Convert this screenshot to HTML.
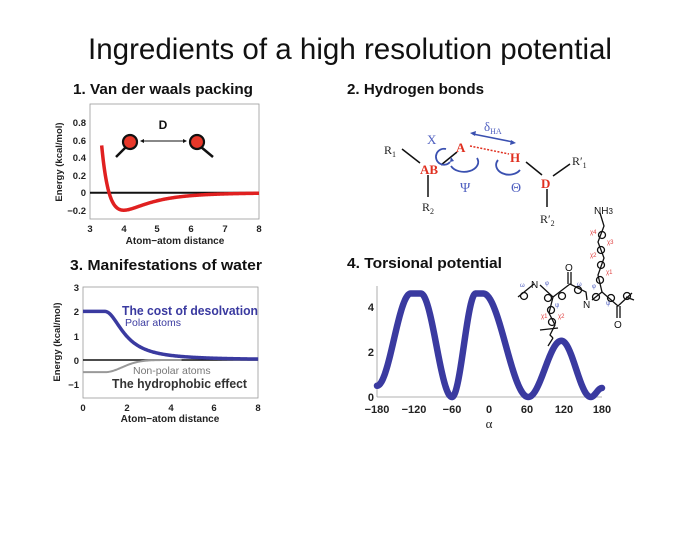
<!DOCTYPE html>
<html><head><meta charset="utf-8"><style>
html,body{margin:0;padding:0;background:#fff;}
svg{display:block;}
</style></head><body>
<svg id="s" width="700" height="540" viewBox="0 0 700 540" xmlns="http://www.w3.org/2000/svg" font-family="Liberation Sans, sans-serif">
<rect width="700" height="540" fill="#fff"/>
<text x="350" y="59" font-size="30" text-anchor="middle" textLength="524" lengthAdjust="spacingAndGlyphs" fill="#111">Ingredients of a high resolution potential</text>

<!-- Panel 1 -->
<text x="73" y="94" font-size="14.5" font-weight="bold" textLength="180" lengthAdjust="spacingAndGlyphs" fill="#111">1. Van der waals packing</text>
<rect x="90" y="104" width="169" height="115" fill="none" stroke="#999" stroke-width="0.8"/>
<g font-size="9.5" font-weight="bold" fill="#222" text-anchor="end">
<text x="86" y="126">0.8</text><text x="86" y="144">0.6</text><text x="86" y="161">0.4</text>
<text x="86" y="179">0.2</text><text x="86" y="196">0</text><text x="86" y="214">−0.2</text>
</g>
<g font-size="9.5" font-weight="bold" fill="#222" text-anchor="middle">
<text x="90" y="232">3</text><text x="124" y="232">4</text><text x="157" y="232">5</text>
<text x="191" y="232">6</text><text x="225" y="232">7</text><text x="259" y="232">8</text>
</g>
<text x="175" y="244" font-size="10" font-weight="bold" text-anchor="middle" fill="#222">Atom−atom distance</text>
<text transform="translate(62,162) rotate(-90)" font-size="9.5" font-weight="bold" text-anchor="middle" fill="#222">Energy (kcal/mol)</text>
<line x1="90" y1="192.7" x2="259" y2="192.7" stroke="#111" stroke-width="2"/>
<path id="lj" fill="none" stroke="#e02020" stroke-width="3.5"/>
<text x="163" y="129" font-size="12" font-weight="bold" text-anchor="middle" fill="#111">D</text>
<line x1="126" y1="147" x2="116" y2="157" stroke="#111" stroke-width="2.5"/>
<circle cx="130" cy="142" r="7" fill="#e8382a" stroke="#111" stroke-width="2.2"/>
<line x1="201" y1="147" x2="213" y2="157" stroke="#111" stroke-width="2.5"/>
<circle cx="197" cy="142" r="7" fill="#e8382a" stroke="#111" stroke-width="2.2"/>
<line x1="141" y1="141" x2="186" y2="141" stroke="#111" stroke-width="0.9"/>
<path d="M140,141 l4,-2 v4z M187,141 l-4,-2 v4z" fill="#111"/>

<!-- Panel 3 -->
<text x="70" y="270" font-size="14.5" font-weight="bold" textLength="192" lengthAdjust="spacingAndGlyphs" fill="#111">3. Manifestations of water</text>
<rect x="83" y="287" width="175" height="111" fill="none" stroke="#999" stroke-width="0.8"/>
<g font-size="9.5" font-weight="bold" fill="#222" text-anchor="end">
<text x="79" y="291">3</text><text x="79" y="315">2</text><text x="79" y="340">1</text>
<text x="79" y="364">0</text><text x="79" y="388">−1</text>
</g>
<g font-size="9.5" font-weight="bold" fill="#222" text-anchor="middle">
<text x="83" y="411">0</text><text x="127" y="411">2</text><text x="171" y="411">4</text>
<text x="214" y="411">6</text><text x="258" y="411">8</text>
</g>
<text x="170" y="422" font-size="10" font-weight="bold" text-anchor="middle" fill="#222">Atom−atom distance</text>
<text transform="translate(60,342) rotate(-90)" font-size="9.5" font-weight="bold" text-anchor="middle" fill="#222">Energy (kcal/mol)</text>
<line x1="83" y1="360" x2="258" y2="360" stroke="#111" stroke-width="1.5"/>
<path id="gr" fill="none" stroke="#999" stroke-width="2"/>
<path id="bl" fill="none" stroke="#3a3aa0" stroke-width="3.5"/>
<text x="122" y="315" font-size="13" font-weight="bold" fill="#3a3aa0" textLength="136" lengthAdjust="spacingAndGlyphs">The cost of desolvation</text>
<text x="125" y="326" font-size="10.5" fill="#3a3aa0">Polar atoms</text>
<text x="133" y="374" font-size="10.5" fill="#777">Non-polar atoms</text>
<text x="112" y="388" font-size="12.5" font-weight="bold" fill="#333" textLength="135" lengthAdjust="spacingAndGlyphs">The hydrophobic effect</text>

<!-- Panel 2 -->
<text x="347" y="94" font-size="14.5" font-weight="bold" textLength="137" lengthAdjust="spacingAndGlyphs" fill="#111">2. Hydrogen bonds</text>
<g font-family="Liberation Serif, serif">
<line x1="402" y1="149" x2="420" y2="163" stroke="#111" stroke-width="1.5"/>
<line x1="428" y1="175" x2="428" y2="197" stroke="#111" stroke-width="1.5"/>
<line x1="441" y1="165" x2="457" y2="152" stroke="#111" stroke-width="1.5"/>
<line x1="526" y1="162" x2="542" y2="175" stroke="#111" stroke-width="1.5"/>
<line x1="553" y1="176" x2="570" y2="164" stroke="#111" stroke-width="1.5"/>
<line x1="547" y1="189" x2="547" y2="207" stroke="#111" stroke-width="1.5"/>
<line x1="470" y1="146" x2="509" y2="154" stroke="#e03020" stroke-width="1.5" stroke-dasharray="2,1.5"/>
<text x="384" y="154" font-size="12" fill="#222">R<tspan font-size="8" dy="3">1</tspan></text>
<text x="420" y="174" font-size="13" font-weight="bold" fill="#e03020">AB</text>
<text x="456" y="152" font-size="13" font-weight="bold" fill="#e03020">A</text>
<text x="510" y="162" font-size="13" font-weight="bold" fill="#e03020">H</text>
<text x="541" y="188" font-size="13" font-weight="bold" fill="#e03020">D</text>
<text x="572" y="165" font-size="12" fill="#222">R′<tspan font-size="8" dy="3">1</tspan></text>
<text x="422" y="211" font-size="12" fill="#222">R<tspan font-size="8" dy="3">2</tspan></text>
<text x="540" y="223" font-size="12" fill="#222">R′<tspan font-size="8" dy="3">2</tspan></text>
<text x="427" y="144" font-size="13" fill="#5060c0">X</text>
<text x="484" y="131" font-size="13" fill="#5060c0">δ<tspan font-size="8" dy="3">HA</tspan></text>
<text x="460" y="192" font-size="14" fill="#5060c0">Ψ</text>
<text x="511" y="192" font-size="14" fill="#5060c0">Θ</text>
<line x1="473" y1="134" x2="513" y2="142" stroke="#3a50b0" stroke-width="1.5"/>
<path d="M470,133 l6,-2 l-1,5z M516,143 l-6,2 l1,-5z" fill="#3a50b0"/>
<path d="M451,166 a13,9 0 0 0 26,-8" fill="none" stroke="#3a50b0" stroke-width="1.8"/>
<path d="M498,160 a12,9 0 0 0 22,10" fill="none" stroke="#3a50b0" stroke-width="1.8"/>
<path d="M446,149 a8,8 0 1 0 4,13" fill="none" stroke="#3a50b0" stroke-width="1.8"/>
<path d="M450,162 l1,-5 l3,4z" fill="#3a50b0"/>
</g>

<!-- Panel 4 -->
<text x="347" y="268" font-size="14.5" font-weight="bold" textLength="155" lengthAdjust="spacingAndGlyphs" fill="#111">4. Torsional potential</text>
<line x1="377" y1="286" x2="377" y2="397" stroke="#999" stroke-width="0.8"/>
<line x1="377" y1="397" x2="602" y2="397" stroke="#999" stroke-width="0.8"/>
<g font-size="11" font-weight="bold" fill="#222" text-anchor="end">
<text x="374" y="311">4</text><text x="374" y="356">2</text><text x="374" y="401">0</text>
</g>
<g font-size="11" font-weight="bold" fill="#222" text-anchor="middle">
<text x="377" y="413">−180</text><text x="414" y="413">−120</text><text x="452" y="413">−60</text>
<text x="489" y="413">0</text><text x="527" y="413">60</text><text x="564" y="413">120</text><text x="602" y="413">180</text>
</g>
<text x="489" y="428" font-size="13" font-family="Liberation Serif, serif" text-anchor="middle" fill="#222">α</text>
<path id="tor" fill="none" stroke="#3a3aa0" stroke-width="6.5" stroke-linecap="round"/>

<!-- molecule -->
<g stroke="#111" stroke-width="1.3" fill="none">
<polyline points="518,297 534,284"/>
<polyline points="540,285 553,297 570,284 586,292 587,300"/>
<polyline points="592,300 602,292 618,306 632,293"/>
<line x1="568" y1="284" x2="568" y2="272"/><line x1="571" y1="284" x2="571" y2="272"/>
<line x1="617" y1="306" x2="617" y2="318"/><line x1="620" y1="306" x2="620" y2="318"/>
<polyline points="602,292 598,275 604,258 598,242 604,226 600,213"/>
<polyline points="553,297 549,313 555,325 550,335 553,338"/>
<polyline points="540,330 558,328"/><polyline points="553,338 548,346"/>
<line x1="626" y1="297" x2="634" y2="300"/>
<circle cx="524" cy="296" r="3.5"/><circle cx="548" cy="298" r="3.5"/><circle cx="562" cy="296" r="3.5"/>
<circle cx="578" cy="290" r="3.5"/><circle cx="596" cy="297" r="3.5"/><circle cx="611" cy="298" r="3.5"/>
<circle cx="627" cy="296" r="3.5"/>
<circle cx="600" cy="280" r="3.5"/><circle cx="601" cy="265" r="3.5"/><circle cx="601" cy="250" r="3.5"/>
<circle cx="602" cy="235" r="3.5"/><circle cx="551" cy="310" r="3.5"/><circle cx="552" cy="322" r="3.5"/>
</g>
<g font-size="10" fill="#111">
<text x="531" y="288">N</text><text x="583" y="308">N</text>
<text x="565" y="271">O</text><text x="614" y="328">O</text>
<text x="594" y="214">NH<tspan font-size="8">3</tspan></text>
</g>
<g font-size="6" fill="#e04040">
<text x="590" y="234">χ4</text><text x="607" y="244">χ3</text><text x="590" y="257">χ2</text>
<text x="606" y="274">χ1</text><text x="541" y="318">χ1</text><text x="558" y="318">χ2</text>
</g>
<g font-size="6" fill="#5060c0">
<text x="520" y="287">ω</text><text x="545" y="285">φ</text><text x="555" y="307">ψ</text>
<text x="577" y="286">ω</text><text x="592" y="288">φ</text><text x="606" y="305">ψ</text>
</g>
</svg>
<script>
function path(f,a,b,n,X,Y){let d="";for(let i=0;i<=n;i++){let x=a+(b-a)*i/n;let y=f(x);d+=(i?"L":"M")+X(x).toFixed(2)+","+Y(y).toFixed(2);}return d;}
document.getElementById("lj").setAttribute("d",path(r=>{let q=Math.pow(4/r,6);return 0.2*(q*q-2*q);},3.345,8,300,x=>90+(x-3)*33.8,y=>192.7-y*87.5));
document.getElementById("bl").setAttribute("d",path(x=>x<1?2:2/(1+(x-1)*(x-1)*1.05),0,8,200,x=>83+x*21.9,y=>360-y*24.3));
document.getElementById("gr").setAttribute("d",path(x=>x<1?-0.5:-0.5*Math.exp(-Math.pow((x-1)/1.1,2)),0,4.5,100,x=>83+x*21.9,y=>360-y*24.3));
var P=[[-180,0.5],[-126,4.6],[-110,4.6],[-60,0],[-22,4.6],[-10,4.6],[62,0],[115,2.5],[162,0],[180,0.4]];
function tor(x){for(let i=0;i<P.length-1;i++){if(x<=P[i+1][0]){let t=(x-P[i][0])/(P[i+1][0]-P[i][0]);let s=(1-Math.cos(Math.PI*t))/2;return P[i][1]+(P[i+1][1]-P[i][1])*s;}}return 0.4;}
document.getElementById("tor").setAttribute("d",path(tor,-180,180,360,x=>377+(x+180)*225/360,y=>397-y*22.5));
</script>
</body></html>
